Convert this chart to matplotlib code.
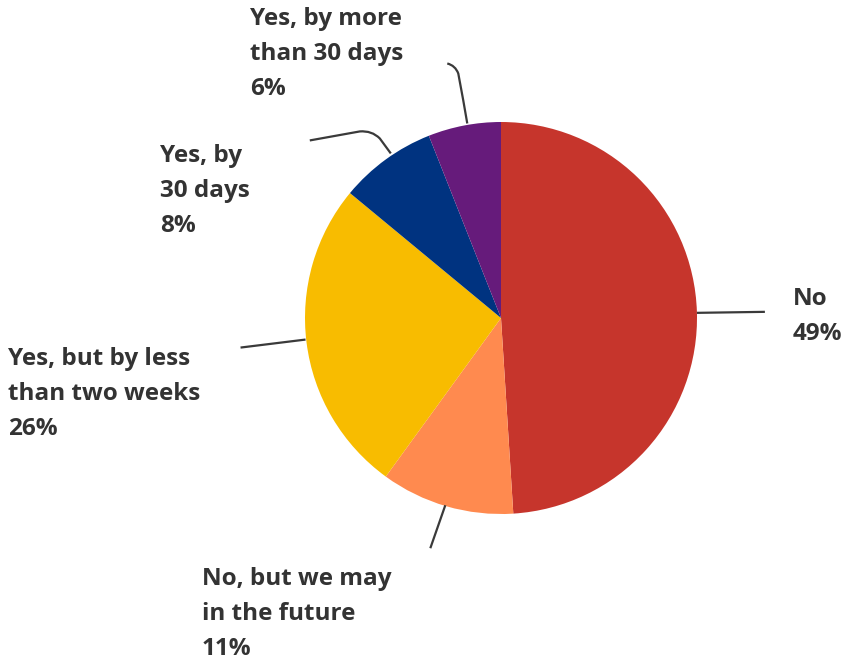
import numpy as np
import matplotlib.pyplot as plt
from matplotlib.path import Path
from matplotlib.patches import PathPatch

# Share of respondents per answer
labels = ["No", "No, but we may\nin the future", "Yes, but by less\nthan two weeks",
          "Yes, by\n30 days", "Yes, by more\nthan 30 days"]
shares = [49, 11, 26, 8, 6]
colors = ["#C6352C", "#FF8A4F", "#F8BC00", "#003380", "#661B7B"]

W, H = 847, 662
cx, cy, r = 501, H - 318, 196

# label top-left corners in pixels (y down) and leader line shapes (offsets from wedge edge, y down)
label_pos = [(793, 287), (202, 567), (8, 347), (160, 144), (250, 7)]
leaders = [
    [(0, 1), (68, 0)],
    [(-1, -1), (-16, 42)],
    [(-1, -3), (-66, 5)],
    [(5, -6), (-6, -21), (-14, -29), (-26, -28), (-76, -19)],
    [(3, -2), (-1, -25), (-6, -52), (-9, -60), (-17, -62)],
]
leader_codes = [
    [Path.MOVETO, Path.LINETO],
    [Path.MOVETO, Path.LINETO],
    [Path.MOVETO, Path.LINETO],
    [Path.MOVETO, Path.LINETO, Path.CURVE3, Path.CURVE3, Path.LINETO],
    [Path.MOVETO, Path.LINETO, Path.LINETO, Path.CURVE3, Path.CURVE3],
]

fig = plt.figure(figsize=(W / 100, H / 100), dpi=100)
ax = fig.add_axes([0, 0, 1, 1])

wedges, _ = ax.pie(shares, colors=colors, startangle=90, counterclock=False,
                   center=(cx, cy), radius=r, frame=True,
                   wedgeprops=dict(linewidth=0))
ax.set_xlim(0, W)
ax.set_ylim(0, H)
ax.set_aspect("equal")
ax.axis("off")

for w, lab, s, pos, pts, codes in zip(wedges, labels, shares, label_pos, leaders, leader_codes):
    mid = np.deg2rad((w.theta1 + w.theta2) / 2)
    ax_, ay_ = cx + r * np.cos(mid), cy + r * np.sin(mid)
    verts = [(ax_ + dx, ay_ - dy) for dx, dy in pts]
    ax.add_patch(PathPatch(Path(verts, codes), fill=False, edgecolor="#3a3a3a",
                           linewidth=1.6, zorder=3))
    ax.text(pos[0], H - pos[1], f"{lab}\n{s}%", ha="left", va="top",
            fontsize=17.5, fontweight="bold", family="Open Sans", color="#333333",
            linespacing=1.62)

fig.savefig("out.png", dpi=100)
